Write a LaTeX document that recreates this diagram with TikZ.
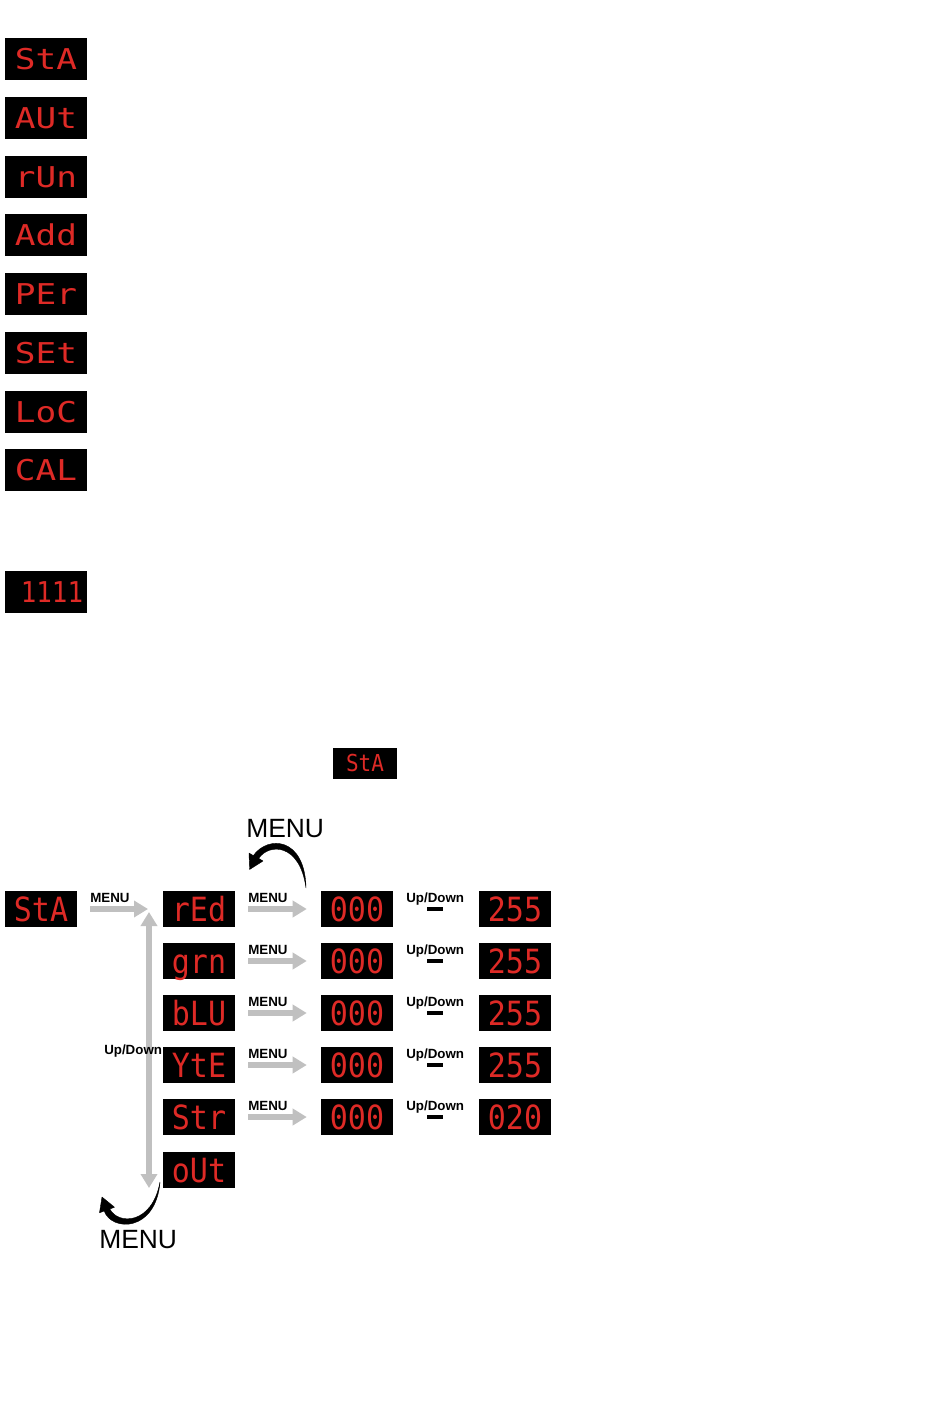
\documentclass[tikz,border=0pt]{standalone}
\usepackage{fontspec}
\setmainfont{Liberation Sans}
\newfontfamily\segA[FakeStretch=1.2]{DejaVu Sans Mono}
\newfontfamily\segB[FakeStretch=0.9]{DejaVu Sans Mono}
\usetikzlibrary{arrows.meta}
\definecolor{ledred}{RGB}{222,42,38}
\definecolor{arrgray}{RGB}{192,192,192}
\begin{document}
\begin{tikzpicture}[x=0.75pt,y=-0.75pt,
  dispA/.style={fill=black, minimum width=61.5pt, minimum height=31.5pt, inner sep=0pt,
    text=ledred, text height=15.6pt, text depth=0pt, font=\segA\fontsize{21.5}{21.5}\selectfont},
  dispB/.style={fill=black, minimum width=54pt, minimum height=27pt, inner sep=0pt,
    text=ledred, text height=18.2pt, text depth=0pt, font=\segB\fontsize{25}{25}\selectfont},
  dispC/.style={fill=black, minimum width=48pt, minimum height=23.25pt, inner sep=0pt,
    text=ledred, text height=12.5pt, text depth=0pt, font=\segB\fontsize{17.5}{17.5}\selectfont},
  lab/.style={font=\bfseries\fontsize{10}{10}\selectfont, inner sep=0pt, anchor=base west},
  big/.style={font=\fontsize{19.8}{19.8}\selectfont, inner sep=0pt, anchor=base west},
  garrow/.style={draw=arrgray, line width=4.5pt, -{Triangle[length=10.5pt,width=12pt]}},
  gdarrow/.style={draw=arrgray, line width=4.5pt, {Triangle[length=10.5pt,width=12pt]}-{Triangle[length=10.5pt,width=12pt]}},
  brush/.style={fill=black, draw=black, line width=0.3pt, line join=round},
  minus/.style={fill=black, minimum width=12pt, minimum height=3pt, inner sep=0pt}
]
\useasboundingbox (0,0) rectangle (950,1408);
\fill[white] (0,0) rectangle (950,1408);

% ---- top list ----
\node[dispA] (l1) at (46,59)  {StA};
\node[dispA] (l2) at (46,118) {AUt};
\node[dispA] (l3) at (46,177) {rUn};
\node[dispA] (l4) at (46,235) {Add};
\node[dispA] (l5) at (46,294) {PEr};
\node[dispA] (l6) at (46,353) {SEt};
\node[dispA] (l7) at (46,412) {LoC};
\node[dispA] (l8) at (46,470) {CAL};
\node[dispA, font=\segB\fontsize{21.5}{21.5}\selectfont] (l9) at (46,592) {\hspace*{9pt}1111};

% ---- middle ----
\node[dispC] (msta) at (365,763.5) {StA};

% ---- diagram ----
\node[dispB] (sta) at (41,909) {StA};
\node[dispB] (red) at (199,909)  {rEd};
\node[dispB] (grn) at (199,961)  {grn};
\node[dispB] (blu) at (199,1013) {bLU};
\node[dispB] (yte) at (199,1065) {YtE};
\node[dispB] (str) at (199,1117) {Str};
\node[dispB] (out) at (199,1170) {oUt};

\foreach \n/\y in {a/909,b/961,c/1013,d/1065,e/1117}{
  \node[dispB] (z\n) at (357,\y) {000};
}
\node[dispB] (ma) at (515,909)  {255};
\node[dispB] (mb) at (515,961)  {255};
\node[dispB] (mc) at (515,1013) {255};
\node[dispB] (md) at (515,1065) {255};
\node[dispB] (me) at (515,1117) {020};

% labels and arrows
\node[lab] (m0) at (90,902) {MENU};
\coordinate (jn) at (148,909);
\draw[garrow] ([xshift=9.75pt]sta.east) -- (jn);

\coordinate (vtop) at (149,912);
\coordinate (vbot) at (149,1188);
\draw[gdarrow] (vbot) -- (vtop);
\node[lab] (ud0) at (104,1054) {Up/Down};

\foreach \r/\s/\y in {red/a/909,grn/b/961,blu/c/1013,yte/d/1065,str/e/1117}{
  \node[lab] (mm\s) at (248,\y-7) {MENU};
  \draw[garrow] ([xshift=9.75pt]\r.east) -- ([xshift=-10.5pt]z\s.west);
  \node[lab] (ud\s) at (406,\y-7) {Up/Down};
  \node[minus] (dash\s) at (435,\y) {};
}

% curved MENU arrows (brush strokes)
\node[big] (bigtop) at (246,837) {MENU};
\coordinate (ct1) at (306,888);
\coordinate (ct2) at (249.6,869.5);
\draw[brush] (ct1) .. controls (305,837) and (268,835) .. (253.3,855.6)
  -- (249,853) -- (ct2) -- (263,861) -- (258.7,858.4)
  .. controls (269,843) and (300,843) .. (ct1) -- cycle;

\node[big] (bigbot) at (99,1248) {MENU};
\coordinate (cb1) at (160,1182);
\coordinate (cb2) at (102,1197);
\draw[brush] (cb1) .. controls (156,1232) and (112,1232) .. (104.2,1211)
  -- (99.5,1212.8) -- (cb2) -- (114.5,1207.2) -- (109.8,1209)
  .. controls (118,1225) and (152,1225) .. (cb1) -- cycle;
\end{tikzpicture}
\end{document}
